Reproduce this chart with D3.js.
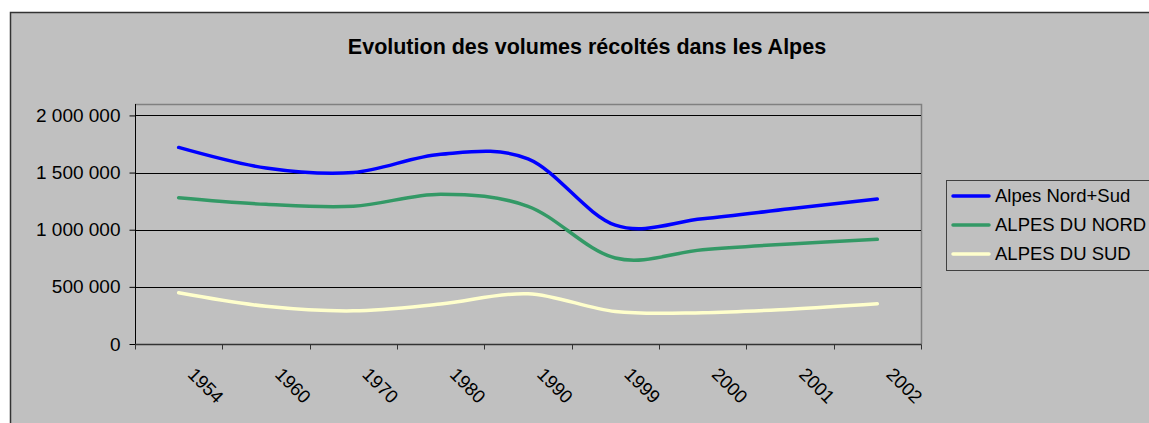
<!DOCTYPE html>
<html>
<head>
<meta charset="utf-8">
<script src="https://cdn.jsdelivr.net/npm/d3@7"></script>
<style>
	body { margin: 0; background: white; }
	text { font-family: Arial, "Liberation Sans", sans-serif; fill: black; }
</style>
</head>
<body>
<div class="chart-container"></div>
<script>

// ------------------------------ Data ------------------------------

var years = ["1954", "1960", "1970", "1980", "1990", "1999", "2000", "2001", "2002"];

var alpesTotal = [1720000, 1540000, 1500000, 1660000, 1620000, 1040000, 1095000, 1183000, 1268000];
var alpesNord  = [1280000, 1222000, 1205000, 1310000, 1205000,  752000,  825000,  876000,  916000];
var alpesSud   = [ 448000,  330000,  290000,  350000,  440000,  284000,  274000,  305000,  352000];

var seriesNames = ["Alpes Nord+Sud", "ALPES DU NORD", "ALPES DU SUD"];
var yTicks = [0, 500000, 1000000, 1500000, 2000000];

var chartTitle = "Evolution des volumes récoltés dans les Alpes";

var series = [
	{ name: seriesNames[0], values: alpesTotal, color: "#0000ff" },
	{ name: seriesNames[1], values: alpesNord,  color: "#339966" },
	{ name: seriesNames[2], values: alpesSud,   color: "#ffffcc" }
];

// ------------------------------ Layout ------------------------------

var svgwidth = 1149;
var svgheight = 423;

var plotLeft = 135, plotRight = 921, plotTop = 104, plotBottom = 344;

var svg = d3.select("div.chart-container")
	.append("svg")
	.attr("width", svgwidth)
	.attr("height", svgheight);

// chart area (grey, runs past the window edge)
svg.append("rect")
	.attr("x", 10.5).attr("y", 12.5)
	.attr("width", 1200).attr("height", 500)
	.attr("fill", "#c0c0c0")
	.attr("stroke", "#333333")
	.attr("stroke-width", 1.5);

svg.append("text")
	.attr("x", 587).attr("y", 54)
	.attr("text-anchor", "middle")
	.style("font-size", "21.5px")
	.style("font-weight", "bold")
	.text(chartTitle);

// ---------- Scales

var x = d3.scaleBand().domain(years).range([plotLeft, plotRight]);
var y = d3.scaleLinear().domain([0, 2100000]).range([plotBottom, plotTop]);

var fmt = v => d3.format(",")(v).replace(/,/g, " ");

// plot area border (top/right grey)
svg.append("path")
	.attr("d", `M${plotLeft},${plotTop + 0.5}H${plotRight + 0.5}V${plotBottom}`)
	.attr("fill", "none")
	.attr("stroke", "#808080")
	.attr("stroke-width", 1.5);

// gridlines
svg.append("g").selectAll("line")
	.data(yTicks.filter(d => d > 0))
	.enter().append("line")
	.attr("x1", plotLeft).attr("x2", plotRight)
	.attr("y1", d => Math.round(y(d)) + 0.5)
	.attr("y2", d => Math.round(y(d)) + 0.5)
	.attr("stroke", "black");

// ---------- Axes

var yAxis = svg.append("g")
	.attr("transform", `translate(${plotLeft + 0.5}, 0)`)
	.call(d3.axisLeft(y).tickValues(yTicks).tickFormat(fmt).tickSize(6).tickPadding(9));

yAxis.select(".domain").attr("stroke", "black").attr("d", `M0,${plotTop}V${plotBottom}`);
yAxis.selectAll("text").style("font-size", "19px").style("font-family", "Arial, 'Liberation Sans', sans-serif");

var xAxis = svg.append("g")
	.attr("transform", `translate(0, ${plotBottom + 0.5})`);

xAxis.append("line")
	.attr("x1", plotLeft).attr("x2", plotRight + 0.5)
	.attr("stroke", "#333333").attr("stroke-width", 1.5);

// tick marks at category borders
xAxis.selectAll("line.tick")
	.data(years.concat(["end"]))
	.enter().append("line")
	.classed("tick", true)
	.attr("x1", (d, i) => Math.round(plotLeft + i * x.step()) + 0.5)
	.attr("x2", (d, i) => Math.round(plotLeft + i * x.step()) + 0.5)
	.attr("y1", 0).attr("y2", 5)
	.attr("stroke", "#333333");

xAxis.selectAll("text.label")
	.data(years)
	.enter().append("text")
	.classed("label", true)
	.attr("transform", d => `translate(${x(d) + x.bandwidth() / 2 + 8}, 31) rotate(45)`)
	.style("font-size", "18.5px")
	.text(d => d);

// ---------- Lines

var line = d3.line()
	.x((d, i) => x(years[i]) + x.bandwidth() / 2)
	.y(d => y(d))
	.curve(d3.curveCardinal.tension(0));

svg.append("g").selectAll("path")
	.data(series)
	.enter().append("path")
	.attr("d", d => line(d.values))
	.attr("fill", "none")
	.attr("stroke", d => d.color)
	.attr("stroke-width", 3.5)
	.attr("stroke-linecap", "round")
	.attr("stroke-linejoin", "round");

// ---------- Legend

var legend = svg.append("g").attr("transform", "translate(946, 180)");

legend.append("rect")
	.attr("x", 0.5).attr("y", 0.5)
	.attr("width", 260).attr("height", 90)
	.attr("fill", "#c0c0c0")
	.attr("stroke", "#404040");

var rows = legend.selectAll("g.row")
	.data(series)
	.enter().append("g")
	.classed("row", true)
	.attr("transform", (d, i) => `translate(0, ${16 + i * 29})`);

rows.append("line")
	.attr("x1", 7).attr("x2", 43)
	.attr("stroke", d => d.color)
	.attr("stroke-width", 3.5)
	.attr("stroke-linecap", "round");

rows.append("text")
	.attr("x", 49)
	.attr("dy", "0.35em")
	.style("font-size", "18.5px")
	.text(d => d.name);

</script>
</body>
</html>
